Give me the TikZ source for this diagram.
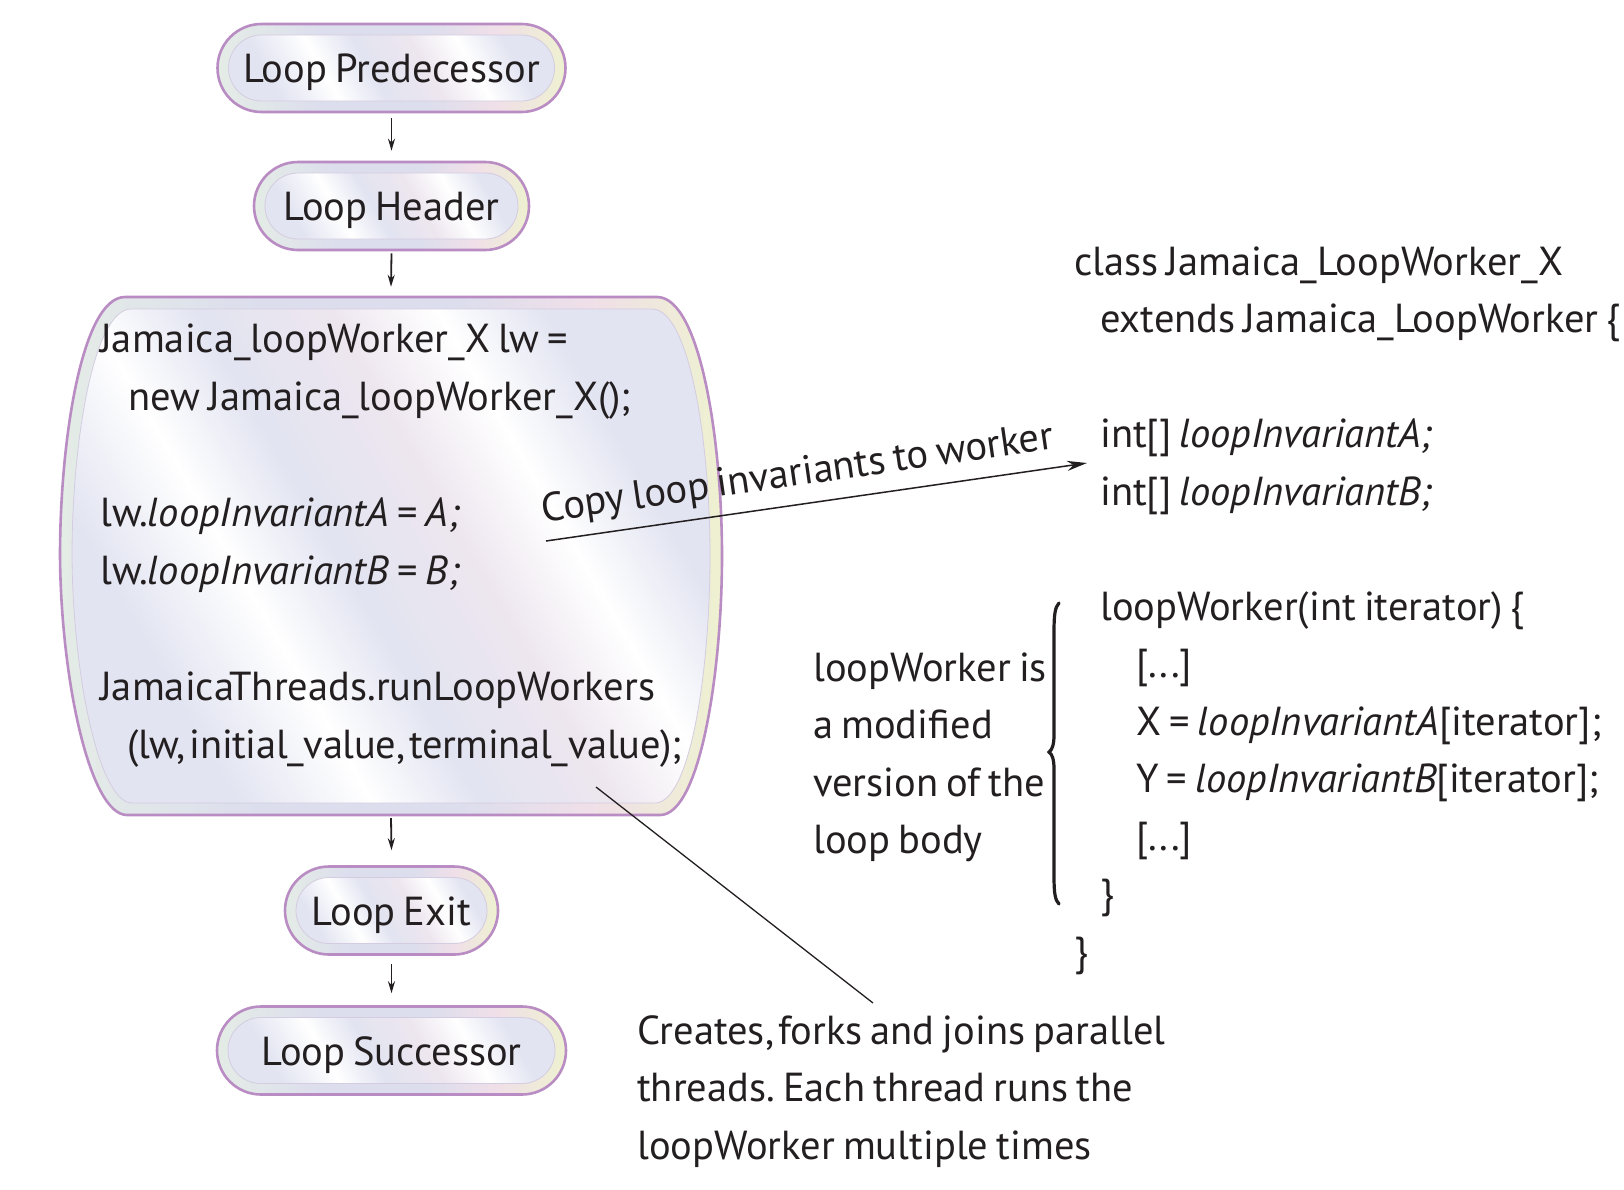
\documentclass[tikz,border=0pt]{standalone}
\usepackage{fontspec}
\setmainfont{PT Sans}[WordSpace=0.75]
\usetikzlibrary{arrows.meta}
\definecolor{ink}{RGB}{35,31,32}
\definecolor{pillborder}{RGB}{185,140,195}
\definecolor{innerline}{RGB}{212,204,224}
\definecolor{bandG}{RGB}{228,236,230}
\definecolor{bandL}{RGB}{220,222,237}
\definecolor{bandP}{RGB}{240,223,232}
\definecolor{bandY}{RGB}{238,241,208}
\definecolor{inL}{RGB}{226,228,241}
\definecolor{inP}{RGB}{237,230,239}
\pgfdeclarehorizontalshading{bandshade}{100bp}{color(0bp)=(bandG); color(25bp)=(bandG); color(40bp)=(bandL); color(55bp)=(bandL); color(65bp)=(bandP); color(75bp)=(bandY); color(100bp)=(bandY)}
\pgfdeclarehorizontalshading{innershade}{100bp}{color(0bp)=(inL); color(28bp)=(inL); color(38bp)=(white); color(46bp)=(inL); color(56bp)=(inP); color(64bp)=(white); color(72bp)=(inL); color(100bp)=(inL)}
\newcommand{\tcomma}{,\kern-4pt}
\tikzset{
  pill/.style={rectangle, rounded corners=44pt, minimum height=88pt, line width=2.6pt,
    draw=pillborder, shade, shading=bandshade, text=ink, inner sep=0pt,
    font=\fontsize{40.5}{48}\selectfont, text height=29pt, text depth=0pt,
    path picture={\path[draw=innerline, line width=0.8pt, shade, shading=innershade, shading angle=30, rounded corners=33pt]
      ([shift={(11pt,-11pt)}]path picture bounding box.north west) rectangle
      ([shift={(-11pt,11pt)}]path picture bounding box.south east);}},
  txt/.style={anchor=base west, inner sep=0pt, text=ink},
  varrow/.style={draw=ink, line width=1.8pt, -{Stealth[length=12pt,width=7pt]}},
  thinline/.style={draw=ink, line width=1.3pt},
}
\begin{document}
\frenchspacing
\begin{tikzpicture}[x=1pt,y=-1pt]
\useasboundingbox (0,0) rectangle (1624,1189);
\fill[white] (0,0) rectangle (1624,1189);

% pills
\node[pill, minimum width=348pt] (pred) at (391.5,68) {Loop Predecessor};
\node[pill, minimum width=275pt] (head) at (391.5,206) {Loop Header};
\node[pill, minimum width=213pt] (exit) at (391.5,910.5) {Loop Exit};
\node[pill, minimum width=349pt] (succ) at (391.5,1050.5) {Loop Successor};

% big body box
\node[inner sep=0pt, minimum width=662pt, minimum height=518pt] (body) at (391,556) {};
\path[draw=pillborder, line width=2.6pt, shade, shading=bandshade]
  (125,297) -- (657,297) .. controls (700,297) and (722,440) .. (722,556)
  .. controls (722,672) and (700,815) .. (660,815) -- (127,815)
  .. controls (90,815) and (61,680) .. (60,556)
  .. controls (60,440) and (82,297) .. (125,297) -- cycle;
\path[draw=innerline, line width=0.8pt, shade, shading=innershade, shading angle=30]
  (131,309) -- (652,309) .. controls (689,309) and (710,440) .. (710,556)
  .. controls (710,672) and (690,803) .. (655,803) -- (132,803)
  .. controls (100,803) and (73,680) .. (72,556)
  .. controls (72,440) and (94,309) .. (131,309) -- cycle;

\node[txt, font=\fontsize{40.5}{58}\selectfont] (bodytxt) at (100,352) {\begin{tabular}[t]{@{}l@{}}
Jamaica\_loopWorker\_X lw =\\
\hspace*{28pt}new Jamaica\_loopWorker\_X();\\
\\
lw.\textit{loopInvariantA} = \textit{A;}\\
lw.\textit{loopInvariantB} = \textit{B;}\\
\\
JamaicaThreads.runLoopWorkers\\
\hspace*{27pt}{\addfontfeature{LetterSpace=-0.8}(lw\tcomma{} initial\_value\tcomma{} terminal\_value);}
\end{tabular}};

% right code
\node[txt, font=\fontsize{40.5}{57.5}\selectfont] (code) at (1074,275) {\begin{tabular}[t]{@{}l@{}}
class Jamaica\_LoopWorker\_X\\
\hspace*{26pt}extends Jamaica\_LoopWorker \{\\
\\
\hspace*{26pt}int[] \textit{loopInvariantA;}\\
\hspace*{26pt}int[] \textit{loopInvariantB;}\\
\\
\hspace*{26pt}loopWorker(int iterator) \{\\
\hspace*{62pt}[...]\\
\hspace*{62pt}X = \textit{loopInvariantA}[iterator];\\
\hspace*{62pt}Y = \textit{loopInvariantB}[iterator];\\
\hspace*{62pt}[...]\\
\hspace*{26pt}\}\\
\}
\end{tabular}};

% left note
\node[txt, font=\fontsize{40.5}{57.5}\selectfont] (note) at (813,681) {\begin{tabular}[t]{@{}l@{}}
loopWorker is\\
a modified\\
version of the\\
loop body
\end{tabular}};

% brace
\draw[draw=ink, line width=3.2pt, line cap=round]
  (1059,603) .. controls (1055,607) and (1054,615) .. (1054,632) -- (1054,735)
  .. controls (1054,745) and (1052,750) .. (1049,752)
  .. controls (1052,754) and (1054,759) .. (1054,769) -- (1054,876)
  .. controls (1054,893) and (1055,900) .. (1059,904);

% bottom note
\node[txt, font=\fontsize{40.5}{57.5}\selectfont] (threads) at (637,1044) {\begin{tabular}[t]{@{}l@{}}
Creates\tcomma{} forks and joins parallel\\
threads. Each thread runs the\\
loopWorker multiple times
\end{tabular}};

% connectors
\coordinate (copyStart) at (546,541);
\coordinate (copyEnd) at (1087,463);
\coordinate (annStart) at (596,787);
\coordinate (annEnd) at (873,1003);

\draw[varrow] ([yshift=-5pt]pred.south) -- ([yshift=10pt]head.north);
\draw[varrow] ([yshift=-2pt]head.south) -- ([yshift=10pt]body.north);
\draw[varrow] ([yshift=-3pt]body.south) -- ([yshift=15pt]exit.north);
\draw[varrow] ([yshift=-8pt]exit.south) -- ([yshift=12pt]succ.north);

\draw[draw=ink, line width=1.5pt, -{Stealth[length=20pt,width=10pt]}] (copyStart) -- (copyEnd)
  node[sloped, pos=0.473, anchor=base, inner sep=0pt, text=ink, font=\fontsize{40.5}{48}\selectfont] (copylbl) {\raisebox{19pt}{Copy loop invariants to worker}};
\draw[thinline] (annStart) -- (annEnd);
\end{tikzpicture}
\end{document}
